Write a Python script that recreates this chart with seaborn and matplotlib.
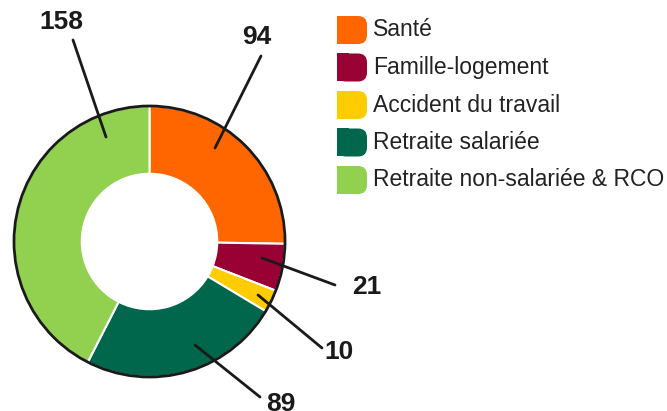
import numpy as np
import matplotlib
matplotlib.use("Agg")
import matplotlib.pyplot as plt
import seaborn as sns
from matplotlib.patches import FancyBboxPatch, Rectangle, Circle

# data
categories = ["Santé", "Famille-logement", "Accident du travail",
              "Retraite salariée", "Retraite non-salariée & RCO"]
values = [94, 21, 10, 89, 158]
colors = ["#FF6600", "#990033", "#FFCC00", "#00664C", "#92D050"]

# label layout (pixel coords, y from top): anchor inside wedge -> line end -> text
anchors = [(215, 148), (262, 258), (258, 295), (195, 345), (106, 137)]
line_ends = [(261, 56), (335, 285), (322, 348), (260, 397), (73, 40)]
text_pos = [(257, 37), (367, 287), (339, 352), (281, 404), (61, 22)]

sns.set_theme(style="white")
plt.rcParams['font.family'] = ['Liberation Sans', 'DejaVu Sans']

W, H = 667, 411
fig = plt.figure(figsize=(W / 100, H / 100), dpi=100)
ax = fig.add_axes([0, 0, 1, 1])

cx, cy, r = 149.5, H - 241.5, 135.5
wedges, _ = ax.pie(values, colors=colors, startangle=90, counterclock=False,
                   center=(cx, cy), radius=r, frame=True,
                   wedgeprops=dict(width=r * 0.5, edgecolor="white", linewidth=1.5))
ax.set_xlim(0, W)
ax.set_ylim(0, H)
ax.set_aspect("auto")
ax.axis("off")
ax.add_patch(Circle((cx, cy), r, fill=False, edgecolor="#1a1a1a", linewidth=2, zorder=5))

for v, a, e, t in zip(values, anchors, line_ends, text_pos):
    ax.plot([a[0], e[0]], [H - a[1], H - e[1]], color="#1a1a1a", lw=2, zorder=6)
    ax.text(t[0], H - t[1], str(v), fontsize=19, fontweight="bold", color="#1a1a1a",
            ha="center", va="center", zorder=7)

# legend
for i, (cat, col) in enumerate(zip(categories, colors)):
    yc = H - (30 + i * 37.5)
    ax.add_patch(FancyBboxPatch((337, yc - 14), 30, 28,
                                boxstyle="round,pad=0,rounding_size=9",
                                facecolor=col, edgecolor="none"))
    ax.add_patch(Rectangle((337, yc - 14), 12, 28, facecolor=col, edgecolor="none"))
    ax.text(373, yc, cat, fontsize=16.5, color="#222222", ha="left", va="center")

fig.savefig("out.png", dpi=100)
